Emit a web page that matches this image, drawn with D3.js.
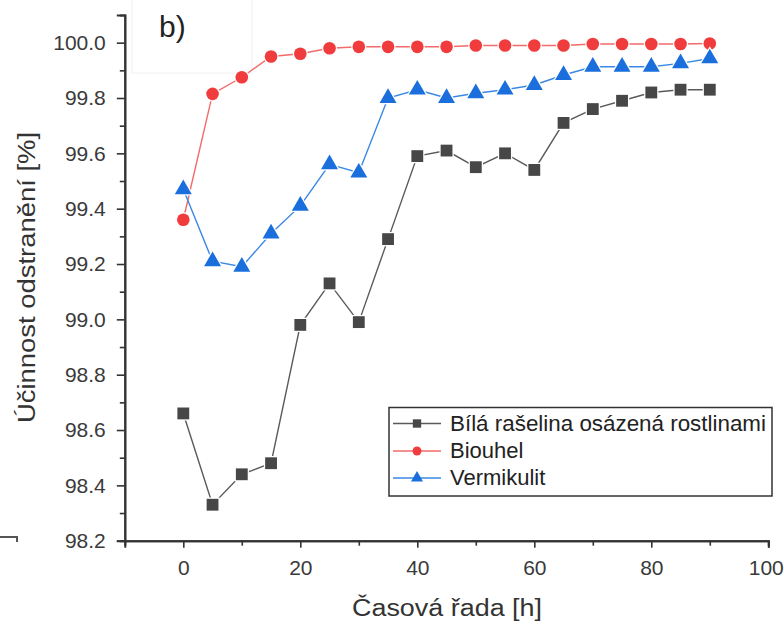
<!DOCTYPE html>
<html><head><meta charset="utf-8">
<script src="https://cdn.jsdelivr.net/npm/d3@7/dist/d3.min.js"></script>
<style>body{margin:0;background:#fff}svg{display:block}</style>
</head><body>
<svg id="chart" width="784" height="626"></svg>
<script>
const hours = [0,5,10,15,20,25,30,35,40,45,50,55,60,65,70,75,80,85,90];
const peat = [98.66,98.33,98.44,98.48,98.98,99.13,98.99,99.29,99.59,99.61,99.55,99.60,99.54,99.71,99.76,99.79,99.82,99.83,99.83];
const biochar = [99.36,99.815,99.875,99.95,99.96,99.98,99.985,99.985,99.985,99.985,99.99,99.99,99.99,99.99,99.995,99.995,99.995,99.995,99.997];
const vermiculite = [99.47,99.21,99.19,99.31,99.41,99.56,99.53,99.80,99.83,99.80,99.817,99.83,99.847,99.883,99.913,99.913,99.913,99.925,99.943];
const seriesNames = ["Bílá rašelina osázená rostlinami","Biouhel","Vermikulit"];
const xTicks = [0,20,40,60,80,100];
const yTicks = [98.2,98.4,98.6,98.8,99.0,99.2,99.4,99.6,99.8,100.0];

const svg = d3.select("#chart");
const font = "Liberation Sans, Arial, sans-serif";
const x = d3.scaleLinear().domain([-10,100]).range([124.8,768.3]);
const y = d3.scaleLinear().domain([98.2,100.1]).range([540.7,15]);

// faint panel label box
svg.append("rect").attr("x",132).attr("y",-1).attr("width",120).attr("height",74)
  .attr("fill","#fff").attr("stroke","#f0f0f0").attr("stroke-width",1);
svg.append("text").attr("x",159).attr("y",37).attr("font-family",font).attr("font-size",30)
  .attr("fill","#222").text("b)");

// axes
const xAxis = svg.append("g").attr("transform","translate(0,540.7)");
xAxis.call(d3.axisBottom(x).tickValues(xTicks).tickSize(7).tickPadding(12).tickFormat(d3.format("d")));
xAxis.append("g").call(d3.axisBottom(x).tickValues([10,30,50,70,90]).tickSize(5).tickFormat(""));
const yAxis = svg.append("g").attr("transform","translate(124.8,0)");
yAxis.call(d3.axisLeft(y).tickValues(yTicks).tickSize(8).tickPadding(11).tickFormat(d3.format(".1f")));
yAxis.append("g").call(d3.axisLeft(y).tickValues(d3.range(98.3,100.05,0.2)).tickSize(5).tickFormat(""));
svg.selectAll(".domain").attr("stroke","#333").attr("stroke-width",2);
svg.selectAll(".tick line").attr("stroke","#333").attr("stroke-width",1.6);
svg.selectAll(".tick text").attr("font-family",font).attr("font-size",21).attr("fill","#3a3a3a");
// keep the last x label inside the picture
xAxis.selectAll(".tick").filter(d=>d===100).select("text").attr("text-anchor","end").attr("x",15);

// axis titles
svg.append("text").attr("x",352).attr("y",616).attr("textLength",190).attr("lengthAdjust","spacingAndGlyphs")
  .attr("font-family",font).attr("font-size",23).attr("fill","#333").text("Časová řada [h]");
svg.append("text").attr("transform","translate(35,423) rotate(-90)")
  .attr("textLength",291).attr("lengthAdjust","spacingAndGlyphs")
  .attr("font-family",font).attr("font-size",23).attr("fill","#333").text("Účinnost odstranění [%]");

// stray mark bottom-left
svg.append("path").attr("d","M0,537 H17 V542").attr("fill","none").attr("stroke","#555").attr("stroke-width",2);

const series = [
  {name:seriesNames[0], values:peat, line:"#5a5a5a", fill:"#474747", sym:d3.symbolSquare, size:140},
  {name:seriesNames[1], values:biochar, line:"#f26a6a", fill:"#f03c3c", sym:d3.symbolCircle, size:125},
  {name:seriesNames[2], values:vermiculite, line:"#3a88e6", fill:"#1a6fdc", sym:d3.symbolTriangle, size:125}
];
const line = d3.line().x((d,i)=>x(hours[i])).y(d=>y(d));
series.forEach(s=>{
  svg.append("path").datum(s.values).attr("d",line).attr("fill","none")
    .attr("stroke",s.line).attr("stroke-width",1.4);
});
series.forEach(s=>{
  svg.append("g").selectAll("path").data(s.values).join("path")
    .attr("transform",(d,i)=>`translate(${x(hours[i])},${y(d)})`)
    .attr("d",d3.symbol().type(s.sym).size(s.size))
    .attr("fill",s.fill).attr("stroke","#fff").attr("stroke-width",2.5).attr("paint-order","stroke");
});

// legend
const lg = svg.append("g");
lg.append("rect").attr("x",389).attr("y",407.5).attr("width",383).attr("height",88.5)
  .attr("fill","#fff").attr("stroke","#333").attr("stroke-width",1.5);
const rowY = [423.5,451,478];
series.forEach((s,i)=>{
  const yy = rowY[i];
  lg.append("line").attr("x1",393).attr("x2",441).attr("y1",yy).attr("y2",yy)
    .attr("stroke",s.line).attr("stroke-width",1.5);
  lg.append("path").attr("transform",`translate(417,${yy})`)
    .attr("d",d3.symbol().type(s.sym).size(s.size*0.5)).attr("fill",s.fill);
  const t = lg.append("text").attr("x",450).attr("y",yy+7).attr("font-family",font).attr("font-size",22)
    .attr("fill","#222").text(s.name);
  if(i===0) t.attr("textLength",316).attr("lengthAdjust","spacingAndGlyphs");
});
</script>
</body></html>
